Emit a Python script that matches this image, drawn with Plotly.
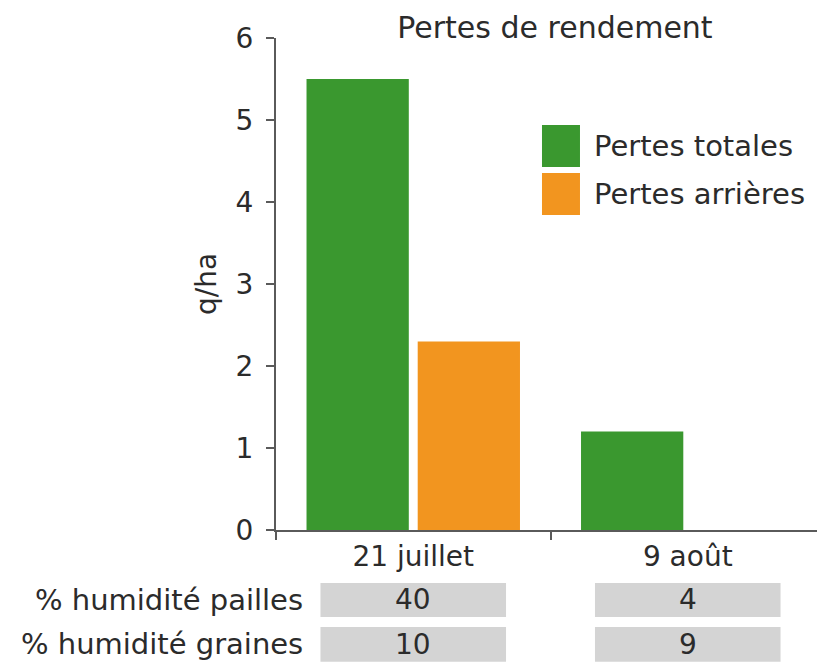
import plotly.graph_objects as go

# Données
dates = ["21 juillet", "9 août"]
pertes_totales = [5.5, 1.2]
pertes_arrieres = [2.3, None]

lignes_tableau = ["% humidité pailles", "% humidité graines"]
humidite_pailles = [40, 4]
humidite_graines = [10, 9]

VERT = "#3a982f"
ORANGE = "#f2951f"
GRIS = "#d4d4d4"
TEXTE = "#2b2b2b"
AXE = "#5a5a5a"
POLICE = "DejaVu Sans, Arial, sans-serif"
FS = 28

fig = go.Figure()
fig.add_trace(go.Bar(x=dates, y=pertes_totales, name="Pertes totales",
                     marker=dict(color=VERT, line=dict(width=0))))
fig.add_trace(go.Bar(x=dates, y=pertes_arrieres, name="Pertes arrières",
                     marker=dict(color=ORANGE, line=dict(width=0))))

# Légende dessinée à la main (grands carrés)
leg_y = [(0.823, 0.738), (0.7256, 0.640)]
for (nom, couleur), (y1, y0) in zip([("Pertes totales", VERT), ("Pertes arrières", ORANGE)], leg_y):
    fig.add_shape(type="rect", xref="paper", yref="paper", x0=0.4845, x1=0.5537,
                  y0=y0, y1=y1, fillcolor=couleur, line=dict(width=0))
    fig.add_annotation(xref="paper", yref="paper", x=0.5756, y=(y0 + y1) / 2,
                       text=nom, showarrow=False, xanchor="left", yanchor="middle",
                       font=dict(size=FS + 1, color=TEXTE))

# Tableau sous l'axe
rangees = [(-0.1077, -0.1768, humidite_pailles), (-0.197, -0.268, humidite_graines)]
for lab, (y1, y0, vals) in zip(lignes_tableau, rangees):
    fig.add_annotation(xref="paper", yref="paper", x=0.0528, y=(y0 + y1) / 2,
                       text=lab, showarrow=False, xanchor="right", yanchor="middle",
                       font=dict(size=FS + 1, color=TEXTE))
    for i, v in enumerate(vals):
        fig.add_shape(type="rect", xref="x", yref="paper", x0=i - 0.338, x1=i + 0.338,
                      y0=y0, y1=y1, fillcolor=GRIS, line=dict(width=0))
        fig.add_annotation(xref="x", yref="paper", x=i, y=(y0 + y1) / 2,
                           text=str(v), showarrow=False, yanchor="middle",
                           font=dict(size=FS, color=TEXTE))

# la page ajoute une marge de 8 px : figure de 817x664
fig.update_layout(
    width=817, height=664,
    margin=dict(l=268, r=0, t=30, b=142),
    paper_bgcolor="white", plot_bgcolor="white",
    font=dict(family=POLICE, size=FS, color=TEXTE),
    barmode="group", bargap=0.19, bargroupgap=0.08,
    showlegend=False,
    title=dict(text="Pertes de rendement", x=0.6695, y=0.970, xanchor="center",
               yanchor="middle", font=dict(size=FS + 2, color=TEXTE)),
)
fig.update_yaxes(range=[0, 6], dtick=1, showgrid=False, zeroline=False,
                 showline=True, linecolor=AXE, linewidth=2,
                 ticks="outside", ticklen=8, tickcolor=AXE, tickwidth=2,
                 ticklabelstandoff=7,
                 title=dict(text="q/ha", standoff=11, font=dict(size=FS)))
fig.update_xaxes(range=[-0.5, 1.5], showgrid=False, showline=True, linecolor=AXE,
                 linewidth=2, ticks="outside", tickson="boundaries", ticklen=8,
                 tickcolor=AXE, tickwidth=2)

fig.write_html("out.html")
